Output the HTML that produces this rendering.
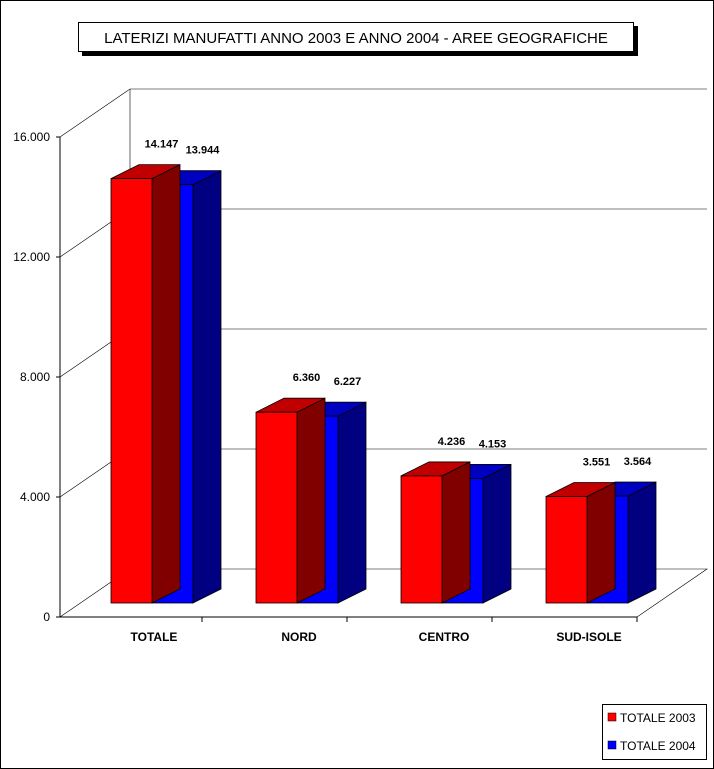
<!DOCTYPE html>
<html><head><meta charset="utf-8"><style>
body{margin:0;background:#fff}
svg{display:block;font-family:"Liberation Sans",Arial,sans-serif}
</style></head><body>
<svg id="chart" width="714" height="769" viewBox="0 0 714 769" xmlns="http://www.w3.org/2000/svg">
<rect x="0.5" y="0.5" width="713" height="768" fill="#fff" stroke="#000"/>
<rect x="82" y="26" width="556" height="30" fill="#000"/>
<rect x="78.5" y="22.5" width="555" height="29" fill="#fff" stroke="#000"/>
<text x="356" y="43" font-size="15" text-anchor="middle">LATERIZI MANUFATTI ANNO 2003 E ANNO 2004 - AREE GEOGRAFICHE</text>
<g id="axes"></g>
<g id="bars"></g>
<g>
<rect x="602.5" y="704.5" width="104" height="55" fill="#fff" stroke="#000"/>
<rect x="608" y="713" width="8" height="8" fill="#f00" stroke="#000" stroke-width="0.5"/>
<text x="620" y="722" font-size="12">TOTALE 2003</text>
<rect x="608" y="741" width="8" height="8" fill="#00f" stroke="#000" stroke-width="0.5"/>
<text x="620" y="750" font-size="12">TOTALE 2004</text>
</g>
</svg>
<script>
const categories = ["TOTALE","NORD","CENTRO","SUD-ISOLE"];
const series2003 = [14147,6360,4236,3551];
const series2004 = [13944,6227,4153,3564];
const yTicks = [0,4000,8000,12000,16000];
const yTickLabels = ["0","4.000","8.000","12.000","16.000"];
const valueLabels2003 = ["14.147","6.360","4.236","3.551"];
const valueLabels2004 = ["13.944","6.227","4.153","3.564"];

const NS="http://www.w3.org/2000/svg";
const X0=60, Y0=617, SCALE=0.03, DX=70, DY=-48, CATW=145, XEND=X0+CATW*categories.length;
const BDX=28, BDY=-14, BW=41, BOFF=51, BASEY=603;
function y(v){return Y0 - v*SCALE;}
function mk(tag,attrs,parent,txt){const e=document.createElementNS(NS,tag);for(const k in attrs)e.setAttribute(k,attrs[k]);if(txt!==undefined)e.textContent=txt;parent.appendChild(e);return e;}
const ax=document.getElementById('axes');
// back wall & floor
let wall=mk('path',{d:`M${X0},${Y0} L${X0+DX},${Y0+DY} L${X0+DX},${y(16000)+DY}`,fill:'none',stroke:'#000','stroke-width':0.6},ax);


let floor=mk('path',{d:`M${XEND-3},${Y0} L${XEND-3+DX},${Y0+DY} L${X0+DX},${Y0+DY}`,fill:'none',stroke:'#000','stroke-width':0.6},ax);


yTicks.forEach((t,i)=>{
  const yy=y(t);
  if(i>0){
    const g=mk('path',{d:`M${X0},${yy} L${X0+DX},${yy+DY} L${XEND-3+DX},${yy+DY}`,fill:'none',stroke:'#000','stroke-width':0.6},ax);
    
    
  }
  const tk=mk('line',{x1:X0-4,y1:yy,x2:X0,y2:yy,stroke:'#000'},ax);
  
  
  const lb=mk('text',{x:X0-10,y:yy+4,'font-size':12,'text-anchor':'end'},ax,yTickLabels[i]);
  
  
});
const ya=mk('line',{x1:X0,y1:y(16000),x2:X0,y2:Y0,stroke:'#000'},ax);


const xa=mk('line',{x1:X0,y1:Y0,x2:XEND-3,y2:Y0,stroke:'#000'},ax);


categories.forEach((c,i)=>{
  const tk=mk('line',{x1:X0+CATW*(i+1)-3,y1:Y0,x2:X0+CATW*(i+1)-3,y2:Y0+5,stroke:'#000'},ax);
  
  
  const lb=mk('text',{x:X0+CATW*i+BOFF+BW+2,y:Y0+24,'font-size':12,'font-weight':'bold','text-anchor':'middle'},ax,c);
  
  
});
const bars=document.getElementById('bars');
function bar(x,v,front,top,side,label,name){
  const g=mk('g',{},bars);
  
  
  const h=v*SCALE, t=BASEY-h;
  mk('polygon',{points:`${x+BW},${t} ${x+BW+BDX},${t+BDY} ${x+BW+BDX},${BASEY+BDY} ${x+BW},${BASEY}`,fill:side,stroke:'#000','stroke-width':0.8},g);
  mk('polygon',{points:`${x},${t} ${x+BDX},${t+BDY} ${x+BW+BDX},${t+BDY} ${x+BW},${t}`,fill:top,stroke:'#000','stroke-width':0.8},g);
  mk('rect',{x:x,y:t,width:BW,height:h,fill:front,stroke:'#000','stroke-width':0.8},g);
  const lb=mk('text',{x:x+BW/2+BDX+2,y:t+BDY-17,'font-size':11,'font-weight':'bold','text-anchor':'middle'},bars,label);
  
  
}
categories.forEach((c,i)=>{
  const xr=X0+CATW*i+BOFF;
  bar(xr+BW,series2004[i],'#0000ff','#0000c0','#000080',valueLabels2004[i],'bar-2004-'+c.toLowerCase());
  bar(xr,series2003[i],'#ff0000','#c00000','#800000',valueLabels2003[i],'bar-2003-'+c.toLowerCase());
});
</script>
</body></html>
